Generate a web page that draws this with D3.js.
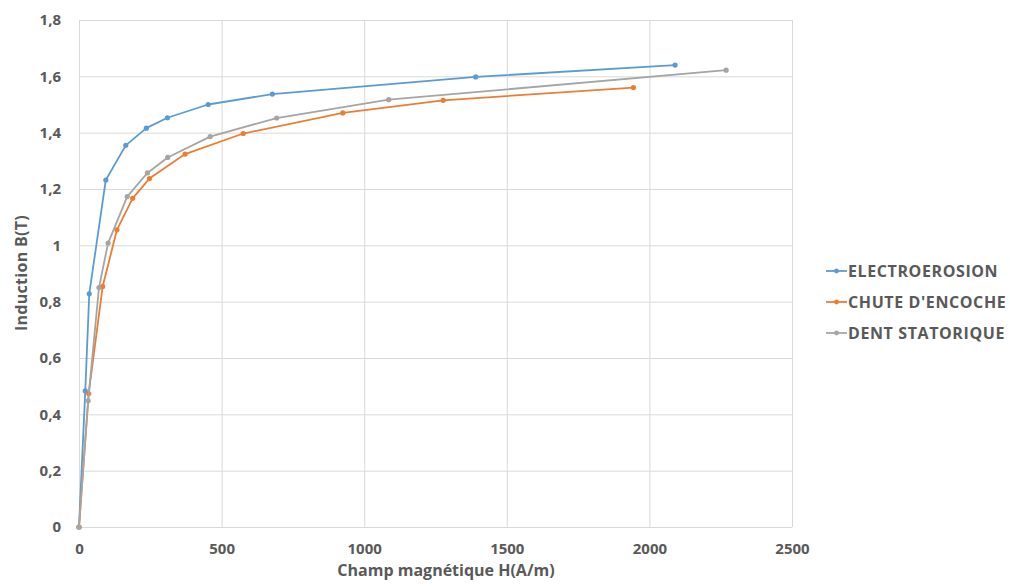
<!DOCTYPE html>
<html><head><meta charset="utf-8">
<script src="https://cdn.jsdelivr.net/npm/d3@7"></script>
<style>body{margin:0;background:#fff;} svg{display:block;}</style>
</head><body>
<svg id="chart" width="1010" height="587"></svg>
<script>
const seriesNames = ["ELECTROEROSION", "CHUTE D'ENCOCHE", "DENT STATORIQUE"];
const seriesColors = ["#5B9BD5", "#ED7D31", "#A5A5A5"];
const electroH = [0, 22, 36, 94, 164, 236, 310, 453, 678, 1391, 2090];
const electroB = [0, 0.483, 0.828, 1.232, 1.355, 1.416, 1.453, 1.500, 1.537, 1.598, 1.640];
const chuteH = [0, 34, 83, 133, 188, 247, 372, 576, 925, 1277, 1944];
const chuteB = [0, 0.474, 0.854, 1.055, 1.167, 1.237, 1.324, 1.397, 1.470, 1.515, 1.560];
const dentH = [0, 32, 70, 102, 169, 240, 311, 460, 693, 1086, 2269];
const dentB = [0, 0.448, 0.850, 1.008, 1.173, 1.257, 1.312, 1.386, 1.452, 1.517, 1.622];
const xTicks = [0, 500, 1000, 1500, 2000, 2500];
const yTicks = [0, 0.2, 0.4, 0.6, 0.8, 1, 1.2, 1.4, 1.6, 1.8];
const xTitle = "Champ magnétique H(A/m)";
const yTitle = "Induction B(T)";

const svg = d3.select("#chart");
const font = "'Open Sans', Lato, sans-serif";
const pL = 79, pR = 792, pT = 20, pB = 527;
const x = d3.scaleLinear().domain([0, 2500]).range([pL, pR]);
const y = d3.scaleLinear().domain([0, 1.8]).range([pB, pT]);

// gridlines
const grid = svg.append("g");
grid.selectAll("line.h").data(yTicks).join("line")
  .attr("x1", pL).attr("x2", pR)
  .attr("y1", d => y(d) + 0.5).attr("y2", d => y(d) + 0.5)
  .attr("stroke", "#d9d9d9").attr("stroke-width", 1);
grid.selectAll("line.v").data(xTicks).join("line")
  .attr("y1", pT).attr("y2", pB)
  .attr("x1", d => x(d) + 0.5).attr("x2", d => x(d) + 0.5)
  .attr("stroke", "#d9d9d9").attr("stroke-width", 1);

// axes
const fmt = d => String(+d.toFixed(1)).replace(".", ",");
const xAxis = svg.append("g").attr("transform", `translate(0,${pB})`)
  .call(d3.axisBottom(x).tickValues(xTicks).tickSize(0).tickPadding(16).tickFormat(d3.format("d")));
const yAxis = svg.append("g").attr("transform", `translate(${pL},0)`)
  .call(d3.axisLeft(y).tickValues(yTicks).tickSize(0).tickPadding(18).tickFormat(fmt));
[xAxis, yAxis].forEach(a => {
  a.select(".domain").remove();
  a.selectAll("text").attr("fill", "#595959").attr("font-family", font)
    .attr("font-weight", "bold").attr("font-size", "15px");
});
xAxis.selectAll("text").attr("dy", "0.71em");

svg.append("text").attr("x", 446).attr("y", 576)
  .attr("text-anchor", "middle").attr("fill", "#595959").attr("font-family", font)
  .attr("font-weight", "bold").attr("font-size", "16px").text(xTitle);
svg.append("text").attr("transform", "translate(27,273) rotate(-90)")
  .attr("text-anchor", "middle").attr("fill", "#595959").attr("font-family", font)
  .attr("font-weight", "bold").attr("font-size", "16px").attr("letter-spacing", "0.3px").text(yTitle);

// series
const series = [
  electroH.map((h, i) => [h, electroB[i]]),
  chuteH.map((h, i) => [h, chuteB[i]]),
  dentH.map((h, i) => [h, dentB[i]])
];
const line = d3.line().x(d => x(d[0])).y(d => y(d[1]));
series.forEach((s, k) => {
  const g = svg.append("g");
  g.append("path").attr("d", line(s)).attr("fill", "none")
    .attr("stroke", seriesColors[k]).attr("stroke-width", 1.8).attr("stroke-linejoin", "round");
  g.selectAll("circle").data(s).join("circle")
    .attr("cx", d => x(d[0])).attr("cy", d => y(d[1])).attr("r", 2.6)
    .attr("fill", seriesColors[k]);
});

// legend
const legY = [271, 302, 333];
seriesNames.forEach((n, k) => {
  const g = svg.append("g").attr("transform", `translate(826,${legY[k]})`);
  g.append("line").attr("x1", 0).attr("x2", 21).attr("y1", 0).attr("y2", 0)
    .attr("stroke", seriesColors[k]).attr("stroke-width", 1.8);
  g.append("circle").attr("cx", 10.5).attr("cy", 0).attr("r", 2.4).attr("fill", seriesColors[k]);
  g.append("text").attr("x", 22).attr("y", 0).attr("dy", "0.36em")
    .attr("fill", "#595959").attr("font-family", font).attr("font-weight", "bold")
    .attr("font-size", "16px").attr("letter-spacing", "0.6px").text(n);
});
</script>
</body></html>
